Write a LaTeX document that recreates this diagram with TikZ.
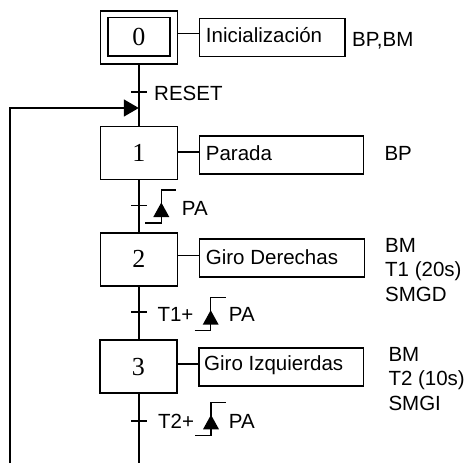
\documentclass[tikz,border=0pt]{standalone}
\usepackage{fontspec}
\setmainfont{Liberation Sans}
\newfontfamily\numfont{Liberation Serif}
\usetikzlibrary{arrows.meta}
\tikzset{
  stepbox/.style={draw, line width=1.5pt, minimum width=77pt, minimum height=53pt, inner sep=0pt, font=\numfont\fontsize{26}{28}\selectfont},
  actbox/.style={draw, line width=1.5pt, minimum height=38pt, inner sep=0pt},
  lbl/.style={anchor=base west, inner sep=0pt, font=\fontsize{20.5}{24}\selectfont},
  wire/.style={line width=1.6pt},
}
\begin{document}
\begin{tikzpicture}[x=1pt,y=-1pt]
\useasboundingbox (0,0) rectangle (470,463);
% steps
\node[stepbox] (s0o) at (138.8,37.5) {};
\node[stepbox, minimum width=62pt, minimum height=38.5pt] (s0) at (138.8,36.7) {0};
\node[stepbox] (s1) at (138.8,153) {1};
\node[stepbox] (s2) at (138.8,259.3) {2};
\node[stepbox] (s3) at (138.3,366.7) {3};
% action boxes
\node[actbox, minimum width=145.7pt] (a0) at (272.2,37.5) {};
\node[actbox, minimum width=164pt] (a1) at (281.3,155) {};
\node[actbox, minimum width=165pt] (a2) at (281.8,258.2) {};
\node[actbox, minimum width=164.3pt] (a3) at (281.2,367) {};
% action texts
\node[lbl] (t0) at (205.7,42.3) {Inicialización};
\node[lbl] (t1) at (205.7,160.7) {Parada};
\node[lbl] (t2) at (205.7,264) {Giro Derechas};
\node[lbl] (t3) at (204,370.7) {Giro Izquierdas};
\node[lbl] (r0) at (352,46) {BP,BM};
\node[lbl] (r1) at (384.3,160.7) {BP};
\node[lbl] (r2a) at (385,252.3) {BM};
\node[lbl] (r2b) at (385,276.7) {T1 (20s)};
\node[lbl] (r2c) at (385,301) {SMGD};
\node[lbl] (r3a) at (388.3,361.7) {BM};
\node[lbl] (r3b) at (388.3,385.7) {T2 (10s)};
\node[lbl] (r3c) at (388.3,410) {SMGI};
% connectors step -> action
\draw[wire] (s0o.east |- 0,33.3) -- (a0.west |- 0,33.3);
\draw[wire] (s1.east |- 0,152) -- (a1.west |- 0,152);
\draw[wire] (s2.east |- 0,255.5) -- (a2.west |- 0,255.5);
\draw[wire] (s3.east |- 0,364) -- (a3.west |- 0,364);
% main flow
\coordinate (bot) at (138.8,463);
\coordinate (lb) at (10,463);
\coordinate (lt) at (10,108);
\coordinate (ar) at (138.8,108);
\draw[wire] (s0o.south) -- (s1.north);
\draw[wire] (s1.south) -- (s2.north);
\draw[wire] (s2.south) -- (s2.south |- s3.north);
\draw[wire] (s3.south -| bot) -- (bot);
\draw[wire, -{Triangle[length=15pt,width=17pt]}] (lb) -- (lt) -- (ar);
% transitions
\foreach \ty in {92,205.3,311.7,421} {
  \draw[wire] (131,\ty) -- (146.7,\ty);
}
\node[lbl] (c0) at (154,100) {RESET};
\node[lbl] (c1) at (181.7,215.7) {PA};
\node[lbl] (c2a) at (157.3,321.7) {T1+};
\node[lbl] (c2b) at (228.7,321.7) {PA};
\node[lbl] (c3a) at (158,428.7) {T2+};
\node[lbl] (c3b) at (228.7,428.7) {PA};
% rising edge symbols
\foreach \ex/\ey in {161.3/190, 210.7/297.7, 211/402.3} {
  \begin{scope}[shift={(\ex,\ey)}]
    \draw[line width=1.3pt] (-16,33) -- (0,33) -- (0,0) -- (15,0);
    \fill (0,12.5) -- (-8,27) -- (8,27) -- cycle;
  \end{scope}
}
\end{tikzpicture}
\end{document}
